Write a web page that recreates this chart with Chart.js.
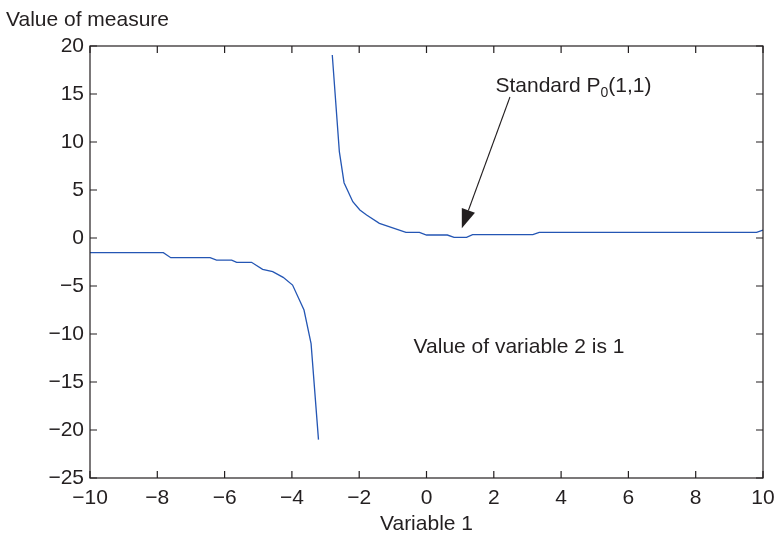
<!DOCTYPE html>
<html><head><meta charset="utf-8">
<script src="https://cdn.jsdelivr.net/npm/chart.js@4/dist/chart.umd.min.js"></script>
<style>html,body{margin:0;padding:0;background:#fff}#wrap{width:777px;height:538px}</style>
</head><body><div id="wrap"><canvas id="c" width="777" height="538"></canvas></div>
<script>
const leftX = [-10, -7.82, -7.6, -6.43, -6.24, -5.79, -5.64, -5.2, -4.87, -4.57, -4.26, -3.98, -3.64, -3.43, -3.21];
const leftY = [-1.53, -1.53, -2.05, -2.05, -2.3, -2.3, -2.53, -2.53, -3.26, -3.5, -4.1, -4.9, -7.5, -11.0, -21.0];
const rightX = [-2.80, -2.59, -2.45, -2.19, -1.98, -1.78, -1.40, -0.61, -0.21, 0.0, 0.62, 0.82, 1.19, 1.37, 3.16, 3.35, 9.81, 10];
const rightY = [19.06, 9.0, 5.76, 3.78, 2.92, 2.4, 1.53, 0.59, 0.59, 0.31, 0.31, 0.07, 0.07, 0.35, 0.35, 0.59, 0.59, 0.83];
const xTicks = [-10, -8, -6, -4, -2, 0, 2, 4, 6, 8, 10];
const yTicks = [-25, -20, -15, -10, -5, 0, 5, 10, 15, 20];
const arrowFrom = [2.48, 14.69];
const arrowTo = [1.05, 1.01];
const labelStandard = [2.05, 15.8];
const labelVar2 = [2.75, -11.4];

const FONT = '"Liberation Sans", Arial, sans-serif';
const INK = '#231f20';
const FS = 21;
const toPts = (xs, ys) => xs.map((x, i) => ({x, y: ys[i]}));

const deco = {
  id: 'deco',
  afterDraw(chart) {
    const ctx = chart.ctx, a = chart.chartArea;
    const xs = chart.scales.x, ys = chart.scales.y;
    ctx.save();
    ctx.strokeStyle = INK; ctx.lineWidth = 1.2;
    ctx.strokeRect(a.left, a.top, a.right - a.left, a.bottom - a.top);
    const L = 7;
    ctx.beginPath();
    xTicks.forEach(v => {
      const p = xs.getPixelForValue(v);
      ctx.moveTo(p, a.bottom); ctx.lineTo(p, a.bottom - L);
      ctx.moveTo(p, a.top); ctx.lineTo(p, a.top + L);
    });
    yTicks.forEach(v => {
      const p = ys.getPixelForValue(v);
      ctx.moveTo(a.left, p); ctx.lineTo(a.left + L, p);
      ctx.moveTo(a.right, p); ctx.lineTo(a.right - L, p);
    });
    ctx.stroke();
    // arrow
    const x1 = xs.getPixelForValue(arrowFrom[0]), y1 = ys.getPixelForValue(arrowFrom[1]);
    const x2 = xs.getPixelForValue(arrowTo[0]), y2 = ys.getPixelForValue(arrowTo[1]);
    const ang = Math.atan2(y2 - y1, x2 - x1);
    const hl = 19, hw = 7;
    const bx = x2 - hl * Math.cos(ang), by = y2 - hl * Math.sin(ang);
    ctx.lineWidth = 1.1;
    ctx.beginPath(); ctx.moveTo(x1, y1); ctx.lineTo(bx, by); ctx.stroke();
    ctx.fillStyle = INK;
    ctx.beginPath();
    ctx.moveTo(x2, y2);
    ctx.lineTo(bx + hw * Math.sin(ang), by - hw * Math.cos(ang));
    ctx.lineTo(bx - hw * Math.sin(ang), by + hw * Math.cos(ang));
    ctx.closePath(); ctx.fill();
    // texts
    ctx.fillStyle = INK;
    ctx.font = FS + 'px ' + FONT;
    ctx.textBaseline = 'middle';
    ctx.textAlign = 'left';
    ctx.fillText('Value of measure', 6, 20);
    ctx.textAlign = 'center';
    ctx.fillText('Variable 1', (a.left + a.right) / 2, 524);
    ctx.fillText('Value of variable 2 is 1', xs.getPixelForValue(labelVar2[0]), ys.getPixelForValue(labelVar2[1]));
    // Standard P0(1,1)
    const sx = xs.getPixelForValue(labelStandard[0]), sy = ys.getPixelForValue(labelStandard[1]);
    ctx.textAlign = 'left';
    const t1 = 'Standard P', t2 = '0', t3 = '(1,1)';
    ctx.font = FS + 'px ' + FONT;
    const w1 = ctx.measureText(t1).width;
    ctx.fillText(t1, sx, sy);
    ctx.font = '14px ' + FONT;
    const w2 = ctx.measureText(t2).width;
    ctx.fillText(t2, sx + w1, sy + 7);
    ctx.font = FS + 'px ' + FONT;
    ctx.fillText(t3, sx + w1 + w2, sy);
    ctx.restore();
  }
};

new Chart(document.getElementById('c'), {
  type: 'line',
  data: {
    datasets: [
      {data: toPts(leftX, leftY), borderColor: '#2456b4', borderWidth: 1.3, pointRadius: 0, tension: 0, fill: false},
      {data: toPts(rightX, rightY), borderColor: '#2456b4', borderWidth: 1.3, pointRadius: 0, tension: 0, fill: false}
    ]
  },
  options: {
    responsive: false, animation: false, events: [],
    layout: {padding: {top: 46, right: 14, left: 0, bottom: 0}},
    plugins: {legend: {display: false}, tooltip: {enabled: false}},
    scales: {
      x: {
        type: 'linear', min: -10, max: 10,
        afterBuildTicks: s => { s.ticks = xTicks.map(v => ({value: v})); },
        afterFit: s => { s.height = 60; s.paddingRight = 0; s.paddingLeft = 0; },
        grid: {display: false, drawTicks: false}, border: {display: false},
        ticks: {padding: 8, color: INK, font: {family: FONT, size: FS}, maxRotation: 0,
          callback: v => (v < 0 ? '\u2212' + Math.abs(v) : '' + v)}
      },
      y: {
        type: 'linear', min: -25, max: 20,
        afterBuildTicks: s => { s.ticks = yTicks.map(v => ({value: v})); },
        afterFit: s => { s.width = 90; s.paddingTop = 0; s.paddingBottom = 0; },
        grid: {display: false, drawTicks: false}, border: {display: false},
        ticks: {padding: 6, color: INK, font: {family: FONT, size: FS},
          callback: v => (v < 0 ? '\u2212' + Math.abs(v) : '' + v)}
      }
    }
  },
  plugins: [deco]
});
</script></body></html>
